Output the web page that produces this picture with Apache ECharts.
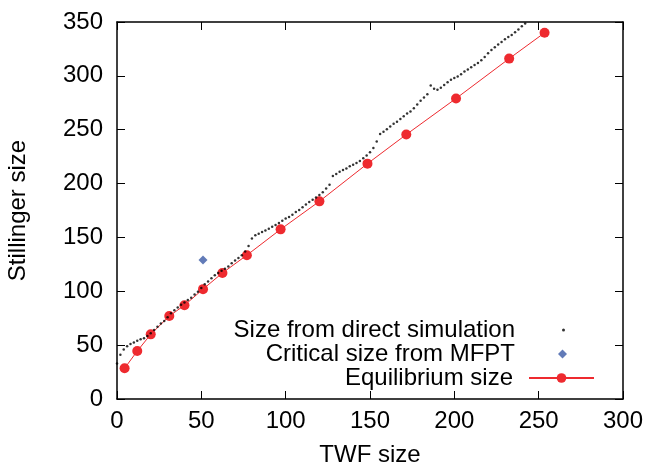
<!DOCTYPE html>
<html><head><meta charset="utf-8">
<script src="https://cdn.jsdelivr.net/npm/echarts@6/dist/echarts.min.js"></script>
<style>html,body{margin:0;padding:0;background:#fff}#c{width:648px;height:466px}</style>
</head><body><div id="c"></div>
<script>
// Size from direct simulation
const simX = [0,2,4,6,8,10,12,14,16,18,20,22,24,26,28,30,32,34,36,38,40,42,44,46,48,50,52,54,56,58,60,62,64,66,68,70,72,74,76,78,80,82,84,86,88,90,92,94,96,98,100,102,104,106,108,110,112,114,116,118,120,122,124,126,128,130,132,134,136,138,140,142,144,146,148,150,152,154,156,158,160,162,164,166,168,170,172,174,176,178,180,182,184,186,188,190,192,194,196,198,200,202,204,206,208,210,212,214,216,218,220,222,224,226,228,230,232,234,236,238,240,242,244];
const simY = [33,41,46,49,51,52.5,54,55.5,56.5,58.5,61,64,67,70,72.5,76,79.5,82.5,85,87.5,89.5,92,94,97,99.5,103,106.5,109,112,115,117,119,121,123,126,128.5,131,133.5,137,142,149,152,153.5,155,156.5,158,160,161.5,163.5,165.5,167.5,169,171,173.5,175.5,178,180.5,183,185,187,189.5,192,195.5,199,207,209,211,212.5,214,216,217.5,219,221,223.5,226,229,233,239,246,248,250.5,253,255.5,257.5,260,262.5,265,267,270,273.5,277,280,283,291,288,287,289,291.5,294,296.5,298,299.5,301.5,304,306,308,310,312,314.5,317.5,321,324,326.5,329,331.5,334,336,338,340.5,343,346,348.5,351];
// Critical size from MFPT
const mfptX = [51];
const mfptY = [129];
// Equilibrium size
const eqX = [4.5,12,20,31,40,51,62.5,77,97,120,148.5,171.5,201,232.5,253.5];
const eqY = [28.5,44.5,60,77,87,102,117,133.5,157.5,183.5,218.5,245.5,279,316,340];

const names = ['Size from direct simulation','Critical size from MFPT','Equilibrium size'];
const FONT = '"Liberation Sans", Arial, Helvetica, sans-serif';
const FS = 24;
const zip = (a,b) => a.map((v,i)=>[v,b[i]]);

const axisCommon = {
  type:'value',
  axisLine:{show:true,onZero:false,lineStyle:{color:'#000',width:1.5}},
  axisTick:{show:true,inside:true,length:8,lineStyle:{color:'#000',width:1}},
  splitLine:{show:false}
};
const labelStyle = {color:'#000',fontSize:FS,fontFamily:FONT};

const legendBase = (name, top, right, w, h, pad) => ({
  orient:'vertical', right:right, top:top, align:'right', padding:0,
  itemWidth:w, itemHeight:h, data:[name],
  selectedMode:false,
  textStyle:{color:'#000',fontSize:FS,fontFamily:FONT,padding:[0,pad,0,0]}
});

const chart = echarts.init(document.getElementById('c'), null, {renderer:'canvas'});
chart.setOption({
  animation:false,
  backgroundColor:'#fff',
  grid:{left:117,right:25,top:22,bottom:67,containLabel:false,outerBoundsMode:'none'},
  legend:[
    legendBase(names[0],318,83,3,3,42),
    legendBase(names[1],342,81,9,9,38),
    legendBase(names[2],366,53,65,12,11)
  ],
  xAxis:[
    Object.assign({},axisCommon,{position:'bottom',min:0,max:300,interval:50,
      name:'TWF size',nameLocation:'middle',nameGap:44,
      nameTextStyle:labelStyle,
      axisLabel:Object.assign({margin:10},labelStyle)}),
    Object.assign({},axisCommon,{position:'top',min:0,max:300,interval:50,axisLabel:{show:false}})
  ],
  yAxis:[
    Object.assign({},axisCommon,{position:'left',min:0,max:350,interval:50,
      name:'Stillinger size',nameLocation:'middle',nameGap:87,
      nameTextStyle:labelStyle,
      axisLabel:Object.assign({margin:14},labelStyle)}),
    Object.assign({},axisCommon,{position:'right',min:0,max:350,interval:50,axisLabel:{show:false}})
  ],
  series:[
    {name:names[0],type:'scatter',data:zip(simX,simY),symbol:'circle',symbolSize:2.5,
     itemStyle:{color:'#000'},clip:true,z:3},
    {name:names[1],type:'scatter',data:zip(mfptX,mfptY),symbol:'diamond',symbolSize:9,
     itemStyle:{color:'#3b5aa6'},z:4},
    {name:names[2],type:'line',data:zip(eqX,eqY),symbol:'circle',symbolSize:10,showSymbol:true,
     lineStyle:{color:'#ee2a2f',width:1},itemStyle:{color:'#ee2a2f'},z:2}
  ]
});
</script></body></html>
